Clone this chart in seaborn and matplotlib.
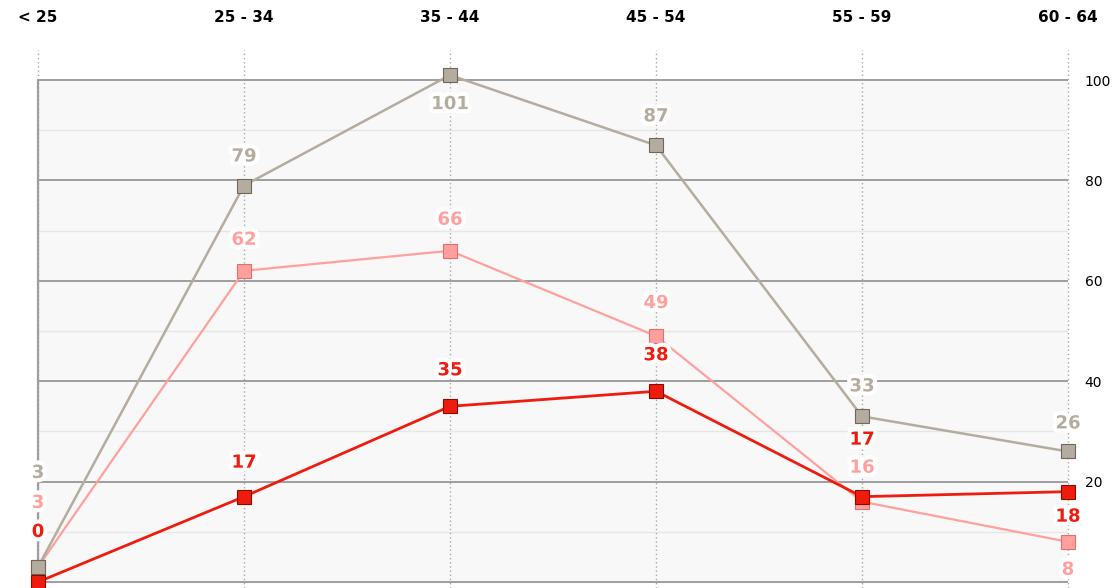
import matplotlib
matplotlib.use("Agg")
import matplotlib.pyplot as plt
import matplotlib.patheffects as pe
import seaborn as sb
import pandas as pd

# age bands along the top
categorii = ["< 25", "25 - 34", "35 - 44", "45 - 54", "55 - 59", "60 - 64"]

serie_gri = [3, 79, 101, 87, 33, 26]
serie_roz = [3, 62, 66, 49, 16, 8]
serie_rosu = [0, 17, 35, 38, 17, 18]

y_ticks = [20, 40, 60, 80, 100]

# label offsets in pixels (style, not data)
dy_gri = [94, 29, -29, 29, 30, 28]
dy_roz = [64, 31, 31, 33, 34, -28]
dy_rosu = [50, 34, 36, 36, 57, -25]

# draw order: pink, gray, red on top
stil = [
    (serie_roz, "#ffa09d", "#e07070", 1.6, dy_roz),
    (serie_gri, "#b5aca0", "#6f675d", 1.8, dy_gri),
    (serie_rosu, "#ee1c0e", "#8a0a00", 2.0, dy_rosu),
]

sb.set_style("white")
plt.rcParams["font.family"] = ["DejaVu Sans"]

fig = plt.figure(figsize=(11.19, 5.88), dpi=100)
ax = fig.add_axes([38 / 1119, 0, (1068 - 38) / 1119, 538 / 588])
assert isinstance(ax, plt.Axes)

poz = list(range(len(categorii)))
ax.set_xlim(0, len(categorii) - 1)
ax.set_ylim(-1.2, 106)

# plot background and grid
ax.axhspan(0, 100, color="#f8f8f8", zorder=0)
for v in range(10, 100, 20):
    ax.axhline(v, color="#e6e6e6", lw=1.0, zorder=1)
for v in [0] + y_ticks:
    ax.axhline(v, color="#9e9e9e", lw=1.4, zorder=1)
for p in poz:
    ax.axvline(p, color="#a8a8a8", lw=1.0, ls=(0, (1, 2)), zorder=1, clip_on=False)
ax.plot([0, 0], [0, 100], color="#9e9e9e", lw=1.6, zorder=1.5, clip_on=False)

for k, (valori, culoare, margine, lw, dys) in enumerate(stil):
    t = pd.DataFrame({"poz": poz, "val": valori})
    sb.lineplot(data=t, x="poz", y="val", color=culoare, lw=lw, marker="s",
                markersize=10, markeredgecolor=margine, markeredgewidth=0.8,
                ax=ax, zorder=3 + k, clip_on=False)
    for x, y, d in zip(poz, valori, dys):
        ax.annotate(str(y), (x, y), xytext=(0, d), textcoords="offset pixels",
                    ha="center", va="center", fontsize=13, fontweight="bold",
                    color=culoare, zorder=8, annotation_clip=False,
                    path_effects=[pe.withStroke(linewidth=6, foreground="white")])

for s in ax.spines.values():
    s.set_visible(False)
ax.set_xlabel("")
ax.set_ylabel("")
ax.xaxis.tick_top()
ax.set_xticks(poz, categorii)
ax.tick_params(axis="x", length=0, pad=18, labelsize=11, labelcolor="black")
for lab in ax.get_xticklabels():
    lab.set_fontweight("bold")
ax.yaxis.tick_right()
ax.set_yticks(y_ticks)
ax.tick_params(axis="y", length=0, pad=12, labelsize=10, labelcolor="black")

fig.savefig("out.png", dpi=100, facecolor="white")
